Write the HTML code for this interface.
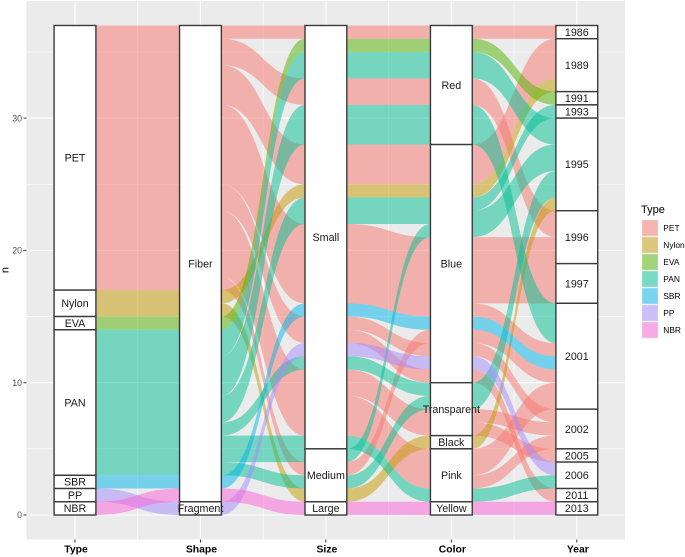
<!DOCTYPE html>
<html>
<head>
<meta charset="utf-8">
<title>Alluvial chart</title>
<style>
html,body{margin:0;padding:0;background:#fff;width:685px;height:557px;overflow:hidden}
svg{display:block;font-family:"Liberation Sans",Arial,sans-serif}
</style>
</head>
<body>
<svg id="chart" width="685" height="557" viewBox="0 0 685 557" xmlns="http://www.w3.org/2000/svg"></svg>
<script>
const axisNames = ['Type', 'Shape', 'Size', 'Color', 'Year'];
const typeNames = ['PET', 'Nylon', 'EVA', 'PAN', 'SBR', 'PP', 'NBR'];
const typeColors = ['#F8766D', '#C49A00', '#53B400', '#00C094', '#00B6EB', '#A58AFF', '#FB61D7'];
const yTicks = [0, 10, 20, 30];
const yMinorTicks = [5, 15, 25, 35];

// strata: [label, low n, high n]
const strataType = [['PET',17,37],['Nylon',15,17],['EVA',14,15],['PAN',3,14],['SBR',2,3],['PP',1,2],['NBR',0,1]];
const strataShape = [['Fiber',1,37],['Fragment',0,1]];
const strataSize = [['Small',5,37],['Medium',1,5],['Large',0,1]];
const strataColor = [['Red',28,37],['Blue',10,28],['Transparent',6,10],['Black',5,6],['Pink',1,5],['Yellow',0,1]];
const strataYear = [['1986',36,37],['1989',32,36],['1991',31,32],['1993',30,31],['1995',23,30],['1996',19,23],['1997',16,19],['2001',8,16],['2002',5,8],['2005',4,5],['2006',2,4],['2011',1,2],['2013',0,1]];

// flows: [type index, low n on left axis, low n on right axis, count]
const flowsTypeShape = [[0,17,17,20],[1,15,15,2],[2,14,14,1],[3,3,3,11],[4,2,2,1],[5,1,0,1],[6,0,1,1]];
const flowsShapeSize = [
  [0,36,36,1],[0,34,31,2],[0,31,25,3],[0,25,16,6],[0,23,13,2],[0,18,6,5],[0,17,3,1],
  [1,16,24,1],[1,15,1,1],
  [2,14,35,1],
  [3,12,33,2],[3,9,28,3],[3,7,22,2],[3,6,11,1],[3,4,4,2],[3,3,2,1],
  [4,2,15,1],[5,0,12,1],[6,1,0,1]
];
const flowsSizeColor = [
  [0,36,36,1],[0,31,31,2],[0,25,25,3],[0,16,15,6],[0,14,12,1],[0,13,10,1],[0,9,6,2],[0,6,2,3],[0,3,13,1],
  [1,24,24,1],[1,1,5,1],
  [2,35,35,1],
  [3,33,33,2],[3,28,28,3],[3,22,22,2],[3,4,21,1],[3,11,9,1],[3,2,8,1],[3,5,1,1],
  [4,15,14,1],[5,12,11,1],[6,0,0,1]
];
const flowsColorYear = [
  [0,36,36,1],[0,31,21,2],[0,25,33,3],[0,16,16,5],[0,15,12,1],[0,13,10,1],[0,12,7,1],[0,10,1,1],[0,7,6,1],[0,6,4,1],[0,3,8,2],[0,2,5,1],
  [1,24,32,1],[1,5,23,1],
  [2,35,31,1],
  [3,33,28,2],[3,28,13,3],[3,23,30,1],[3,21,26,2],[3,8,24,2],[3,1,2,1],
  [4,14,11,1],[5,11,3,1],[6,0,0,1]
];

const allStrata = [strataType, strataShape, strataSize, strataColor, strataYear];
const allFlows = [flowsTypeShape, flowsShapeSize, flowsSizeColor, flowsColorYear];

const NS = 'http://www.w3.org/2000/svg';
const svg = document.getElementById('chart');
const panel = {l: 26.5, r: 625, t: 1, b: 539.5};
const yScale = n => 515 - n * 13.23;
const xScale = i => 75 + i * 125.45;
const halfW = 20.9;

function mk(tag, attrs, parent) {
  const e = document.createElementNS(NS, tag);
  for (const k in attrs) e.setAttribute(k, attrs[k]);
  (parent || svg).appendChild(e);
  return e;
}

const bg = mk('rect', {x: panel.l, y: panel.t, width: panel.r - panel.l, height: panel.b - panel.t, fill: '#EBEBEB'});



yMinorTicks.forEach(v => {
  const g = mk('line', {x1: panel.l, x2: panel.r, y1: yScale(v), y2: yScale(v), stroke: '#fff', 'stroke-width': 0.6});
  
  
});
yTicks.forEach(v => {
  const g = mk('line', {x1: panel.l, x2: panel.r, y1: yScale(v), y2: yScale(v), stroke: '#fff', 'stroke-width': 1.1});
  
  
  const t = mk('line', {x1: 23.5, x2: panel.l, y1: yScale(v), y2: yScale(v), stroke: '#333', 'stroke-width': 1});
  
  
  const l = mk('text', {x: 22, y: yScale(v) + 3.2, 'text-anchor': 'end', 'font-size': 8.8, fill: '#4D4D4D'});
  l.textContent = v;
  
  
});
axisNames.forEach((name, i) => {
  const g = mk('line', {x1: xScale(i), x2: xScale(i), y1: panel.t, y2: panel.b, stroke: '#fff', 'stroke-width': 1.1});
  
  
  if (i < axisNames.length - 1) {
    const m = mk('line', {x1: xScale(i + 0.5), x2: xScale(i + 0.5), y1: panel.t, y2: panel.b, stroke: '#fff', 'stroke-width': 0.6});
    
    
  }
  const t = mk('line', {x1: xScale(i), x2: xScale(i), y1: panel.b, y2: panel.b + 3, stroke: '#333', 'stroke-width': 1});
  
  
  const l = mk('text', {x: xScale(i) + 1, y: 552.5, 'text-anchor': 'middle', 'font-size': 10.4, 'font-weight': 'bold', fill: '#000'});
  l.textContent = name;
  
  
});

const yTitle = mk('text', {x: 8.5, y: 270, 'text-anchor': 'middle', 'font-size': 11, fill: '#000', transform: 'rotate(-90 8.5 270)'});
yTitle.textContent = 'n';



const CURVE = 0.5;
allFlows.forEach((flows, gap) => {
  const x0 = xScale(gap) + halfW, x1 = xScale(gap + 1) - halfW;
  const c0 = x0 + (x1 - x0) * CURVE, c1 = x1 - (x1 - x0) * CURVE;
  flows.forEach(f => {
    const ty = f[0], a = f[1], b = f[2], h = f[3];
    const d = 'M' + x0 + ' ' + yScale(a + h) +
      ' C' + c0 + ' ' + yScale(a + h) + ' ' + c1 + ' ' + yScale(b + h) + ' ' + x1 + ' ' + yScale(b + h) +
      ' L' + x1 + ' ' + yScale(b) +
      ' C' + c1 + ' ' + yScale(b) + ' ' + c0 + ' ' + yScale(a) + ' ' + x0 + ' ' + yScale(a) + ' Z';
    const p = mk('path', {d: d, fill: typeColors[ty], 'fill-opacity': 0.5});
    
    
  });
});

allStrata.forEach((strata, i) => {
  const cx = xScale(i);
  strata.forEach(s => {
    const r = mk('rect', {x: cx - halfW, y: yScale(s[2]), width: halfW * 2, height: yScale(s[1]) - yScale(s[2]), fill: '#fff', stroke: '#3a3a3a', 'stroke-width': 1.4});
    
    
  });
});
allStrata.forEach((strata, i) => {
  const cx = xScale(i);
  strata.forEach(s => {
    const t = mk('text', {x: cx, y: (yScale(s[1]) + yScale(s[2])) / 2 + 3.8, 'text-anchor': 'middle', 'font-size': 10.7, fill: '#1a1a1a'});
    t.textContent = s[0];
    
    
  });
});

const legTitle = mk('text', {x: 641, y: 213, 'font-size': 11, fill: '#000'});
legTitle.textContent = 'Type';


typeNames.forEach((name, i) => {
  const y = 219.5 + i * 17;
  const k = mk('rect', {x: 641.5, y: y, width: 17, height: 17, fill: '#F2F2F2'});
  
  
  const s = mk('rect', {x: 642.2, y: y + 0.7, width: 15.6, height: 15.6, fill: typeColors[i], 'fill-opacity': 0.5});
  
  
  const t = mk('text', {x: 663.3, y: y + 11.7, 'font-size': 8.4, fill: '#000'});
  t.textContent = name;
  
  
});
</script>
</body>
</html>
